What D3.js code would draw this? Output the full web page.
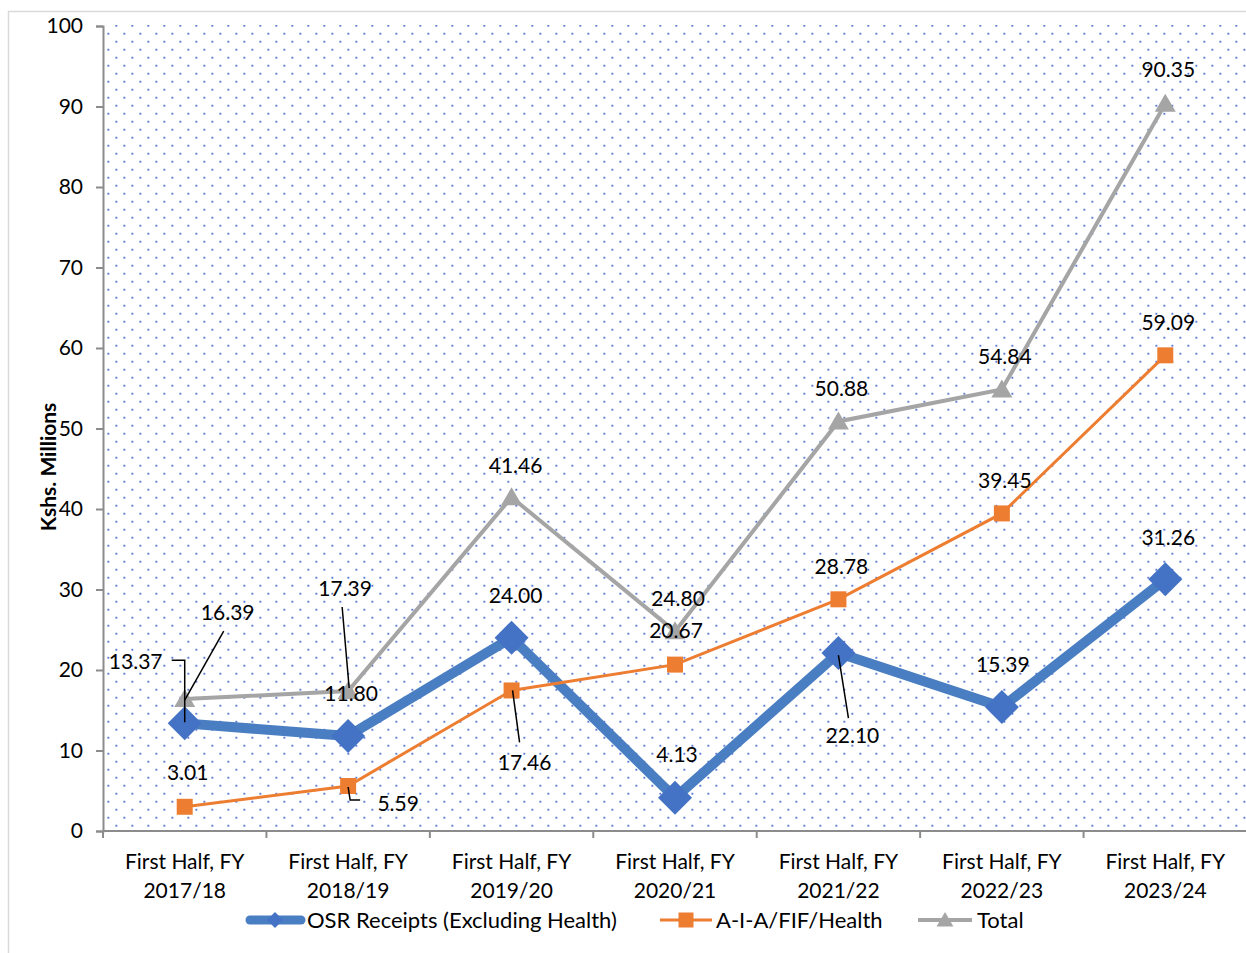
<!DOCTYPE html>
<html>
<head>
<meta charset="utf-8">
<script src="https://cdn.jsdelivr.net/npm/d3@7"></script>
<style>
  html, body { margin: 0; padding: 0; background: #fff; }
  svg { display: block; font-family: Lato, "Open Sans", sans-serif; }
</style>
</head>
<body>
<svg id="chart" width="1246" height="953"></svg>
<script>
// Categories and series values
const categories = [
  ["First Half, FY", "2017/18"],
  ["First Half, FY", "2018/19"],
  ["First Half, FY", "2019/20"],
  ["First Half, FY", "2020/21"],
  ["First Half, FY", "2021/22"],
  ["First Half, FY", "2022/23"],
  ["First Half, FY", "2023/24"]
];
const osrValues   = [13.37, 11.80, 24.00, 4.13, 22.10, 15.39, 31.26];
const aiaValues   = [3.01, 5.59, 17.46, 20.67, 28.78, 39.45, 59.09];
const totalValues = [16.39, 17.39, 41.46, 24.80, 50.88, 54.84, 90.35];
const yTicks = [0, 10, 20, 30, 40, 50, 60, 70, 80, 90, 100];
const seriesNames = ["OSR Receipts (Excluding Health)", "A-I-A/FIF/Health", "Total"];

// Data label offsets (text centre relative to point) and leader lines
const osrLabelPos = [[-49, -62], [3, -43], [4, -42], [2, -43], [14, 82], [1, -43], [3, -42]];
const osrLeaders = { 0: [[0, -1], [0, -63], [-13, -63]], 4: [[0, 2], [10, 65]] };
const aiaLabelPos = [[3, -34], [50, 17], [13, 72], [1, -34], [3, -33], [3, -33], [3, -33]];
const aiaLeaders = { 1: [[0, 1], [2, 14], [12, 14]], 2: [[1, 0], [8, 52]] };
const totalLabelPos = [[43, -87], [-3, -103], [4, -32], [3, -33], [3, -33], [3, -33], [3, -34]];
const totalLeaders = { 0: [[0, 1], [39, -68]], 1: [[-6, -84], [1, -3]] };

const svg = d3.select("#chart");
const plotLeft = 103, plotRight = 1247, plotTop = 26, plotBottom = 831;
const fs = 21;

// Outer frame
svg.append("path")
  .attr("d", `M8.5,953 V11.5 H1246`)
  .attr("fill", "none").attr("stroke", "#d9d9d9").attr("stroke-width", 1.5);

// Dotted plot background (staggered rows, 16px apart horizontally, 8px vertically)
const defs = svg.append("defs");
const pat = defs.append("pattern")
  .attr("id", "dots").attr("patternUnits", "userSpaceOnUse")
  .attr("x", 0).attr("y", 0)
  .attr("width", 16).attr("height", 16);
pat.append("rect").attr("x", 3.4).attr("y", 8.8).attr("width", 1.9).attr("height", 1.9).attr("fill", "#5b7bd5");
pat.append("rect").attr("x", 11.4).attr("y", 0.8).attr("width", 1.9).attr("height", 1.9).attr("fill", "#5b7bd5");

svg.append("rect")
  .attr("x", plotLeft).attr("y", plotTop - 1)
  .attr("width", plotRight - plotLeft).attr("height", plotBottom - plotTop + 1)
  .attr("fill", "url(#dots)");

// Scales
const x = d3.scaleBand().domain(d3.range(categories.length)).range([plotLeft, plotRight]).padding(0);
const cx = i => x(i) + x.bandwidth() / 2;
const y = d3.scaleLinear().domain([0, 100]).range([plotBottom, plotTop]);

// Y axis
const yAxis = svg.append("g").attr("transform", `translate(${plotLeft},0)`)
  .call(d3.axisLeft(y).tickValues(yTicks).tickSize(7).tickPadding(13).tickFormat(d3.format("d")));
yAxis.select(".domain").attr("stroke", "#8c8c8c").attr("stroke-width", 2);
yAxis.selectAll(".tick line").attr("stroke", "#8c8c8c").attr("stroke-width", 2);
yAxis.selectAll(".tick text").attr("font-size", fs).attr("fill", "#000")
  .attr("font-family", "Lato, sans-serif");

// X axis line and boundary ticks
svg.append("line").attr("x1", plotLeft).attr("x2", plotRight).attr("y1", plotBottom).attr("y2", plotBottom)
  .attr("stroke", "#8c8c8c").attr("stroke-width", 2);
svg.append("g").selectAll("line")
  .data(d3.range(categories.length + 1))
  .join("line")
  .attr("x1", i => plotLeft + i * x.bandwidth()).attr("x2", i => plotLeft + i * x.bandwidth())
  .attr("y1", plotBottom).attr("y2", plotBottom + 7)
  .attr("stroke", "#8c8c8c").attr("stroke-width", 2);

// Category labels
const catG = svg.append("g");
categories.forEach((lines, i) => {
  lines.forEach((t, k) => {
    catG.append("text")
      .attr("x", cx(i)).attr("y", 869 + k * 29)
      .attr("text-anchor", "middle").attr("font-size", fs).attr("fill", "#000")
      .text(t);
  });
});

// Y axis title
svg.append("text")
  .attr("transform", `translate(56,467) rotate(-90)`)
  .attr("text-anchor", "middle").attr("font-size", 21).attr("font-weight", "bold")
  .attr("fill", "#000")
  .text("Kshs. Millions");

// Marker shapes
const diamond = (s) => `M0,${-s} L${s},0 L0,${s} L${-s},0 Z`;
const square = (s) => `M${-s},${-s} H${s} V${s} H${-s} Z`;
const triangle = (s) => `M0,${-s} L${s * 1.05},${s * 0.8} L${-s * 1.05},${s * 0.8} Z`;

const line = d3.line().x((d, i) => cx(i)).y(d => y(d));

// OSR series
svg.append("path").datum(osrValues).attr("d", line)
  .attr("fill", "none").attr("stroke", "#4a7ec2").attr("stroke-width", 10)
  .attr("stroke-linejoin", "round");
svg.append("g").selectAll("path").data(osrValues).join("path")
  .attr("transform", (d, i) => `translate(${cx(i)},${y(d)})`)
  .attr("d", diamond(17)).attr("fill", "#4472c4");

// A-I-A series
svg.append("path").datum(aiaValues).attr("d", line)
  .attr("fill", "none").attr("stroke", "#ed7d31").attr("stroke-width", 3);
svg.append("g").selectAll("path").data(aiaValues).join("path")
  .attr("transform", (d, i) => `translate(${cx(i)},${y(d)})`)
  .attr("d", square(8)).attr("fill", "#ed7d31");

// Total series
svg.append("path").datum(totalValues).attr("d", line)
  .attr("fill", "none").attr("stroke", "#a5a5a5").attr("stroke-width", 4);
svg.append("g").selectAll("path").data(totalValues).join("path")
  .attr("transform", (d, i) => `translate(${cx(i)},${y(d)})`)
  .attr("d", triangle(10)).attr("fill", "#a5a5a5");

// Data labels with leader lines
function drawLabels(values, pos, leaders) {
  const g = svg.append("g");
  values.forEach((v, i) => {
    const px = cx(i), py = y(v);
    if (leaders[i]) {
      g.append("path")
        .attr("d", d3.line()(leaders[i].map(([dx, dy]) => [px + dx, py + dy])))
        .attr("fill", "none").attr("stroke", "#000").attr("stroke-width", 1.5);
    }
    g.append("text")
      .attr("x", px + pos[i][0]).attr("y", py + pos[i][1] + 7.5)
      .attr("text-anchor", "middle").attr("font-size", fs).attr("fill", "#000")
      .text(v.toFixed(2));
  });
}
drawLabels(osrValues, osrLabelPos, osrLeaders);
drawLabels(aiaValues, aiaLabelPos, aiaLeaders);
drawLabels(totalValues, totalLabelPos, totalLeaders);

// Legend
const legend = svg.append("g");
const legY = 920;
const legFs = 22;
legend.append("line").attr("x1", 250).attr("x2", 301).attr("y1", legY).attr("y2", legY)
  .attr("stroke", "#4a7ec2").attr("stroke-width", 9).attr("stroke-linecap", "round");
legend.append("path").attr("transform", `translate(275,${legY})`).attr("d", diamond(8)).attr("fill", "#4472c4");
legend.append("text").attr("x", 307).attr("y", legY + 8).attr("font-size", legFs).text(seriesNames[0]);

legend.append("line").attr("x1", 660).attr("x2", 712).attr("y1", legY).attr("y2", legY)
  .attr("stroke", "#ed7d31").attr("stroke-width", 3);
legend.append("path").attr("transform", `translate(686,${legY})`).attr("d", square(7.5)).attr("fill", "#ed7d31");
legend.append("text").attr("x", 716).attr("y", legY + 8).attr("font-size", legFs).text(seriesNames[1]);

legend.append("line").attr("x1", 918).attr("x2", 972).attr("y1", legY).attr("y2", legY)
  .attr("stroke", "#a5a5a5").attr("stroke-width", 4);
legend.append("path").attr("transform", `translate(945,${legY})`).attr("d", triangle(8)).attr("fill", "#a5a5a5");
legend.append("text").attr("x", 977).attr("y", legY + 8).attr("font-size", legFs).text(seriesNames[2]);
</script>
</body>
</html>
